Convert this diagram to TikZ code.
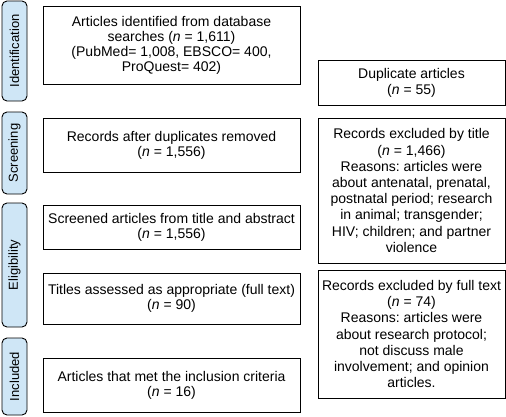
\documentclass[tikz,border=0pt]{standalone}
\usepackage{fontspec}
\setmainfont{Liberation Sans}
\usetikzlibrary{positioning}
\definecolor{stagefill}{RGB}{207,230,246}
\frenchspacing

\begin{document}
\begin{tikzpicture}[x=1pt, y=-1pt,
		stagebox/.style={draw, line width=0.9pt, rounded corners=5pt, fill=stagefill, minimum width=25pt, rotate=90, inner sep=0pt, font=\fontsize{13}{15.5}\selectfont},
		leftbox/.style={draw, line width=0.9pt, minimum width=257pt, align=center, inner sep=0pt, font=\fontsize{14}{15}\selectfont},
		rightbox/.style={draw, line width=0.9pt, minimum width=187pt, align=center, inner sep=0pt, font=\fontsize{14}{16.2}\selectfont}]
			\useasboundingbox (0,0) rectangle (506,416);
			% stages
			\node [stagebox, minimum height=25pt, minimum width=100pt] (ident) at (14.5, 51) {Identification};
			\node [stagebox, minimum height=25pt, minimum width=82pt] (screen) at (14.5, 153) {Screening};
			\node [stagebox, minimum height=25pt, minimum width=124pt] (elig) at (14.5, 265) {Eligibility};
			\node [stagebox, minimum height=25pt, minimum width=77pt] (incl) at (14.5, 376.5) {Included};
			% left column
			\node [leftbox, minimum height=78pt] (found) at (171.5, 45) {Articles identified from database\\searches (\textit{n} = 1,611)\\(PubMed= 1,008, EBSCO= 400,\\ProQuest= 402)};
			\node [leftbox, minimum height=54pt] (nodup) at (171.5, 145) {Records after duplicates removed\\(\textit{n} = 1,556)};
			\node [leftbox, minimum height=44pt] (screened) at (171.5, 227) {Screened articles from title and abstract\\(\textit{n} = 1,556)};
			\node [leftbox, minimum height=51pt] (fulltext) at (171.5, 298.5) {Titles assessed as appropriate (full text)\\(\textit{n} = 90)};
			\node [leftbox, minimum height=54pt] (included) at (171.5, 385) {Articles that met the inclusion criteria\\(\textit{n} = 16)};
			% right column
			\node [rightbox, minimum height=45pt] (dup) at (411.5, 82.5) {Duplicate articles\\(\textit{n} = 55)};
			\node [rightbox, minimum height=145pt] (bytitle) at (411.5, 190.5) {Records excluded by title\\(\textit{n} = 1,466)\\Reasons: articles were\\about antenatal, prenatal,\\postnatal period; research\\in animal; transgender;\\HIV; children; and partner\\violence};
			\node [rightbox, minimum height=128pt] (byfull) at (411.5, 334) {Records excluded by full text\\(\textit{n} = 74)\\Reasons: articles were\\about research protocol;\\not discuss male\\involvement; and opinion\\articles.};
	\end{tikzpicture}
\end{document}
